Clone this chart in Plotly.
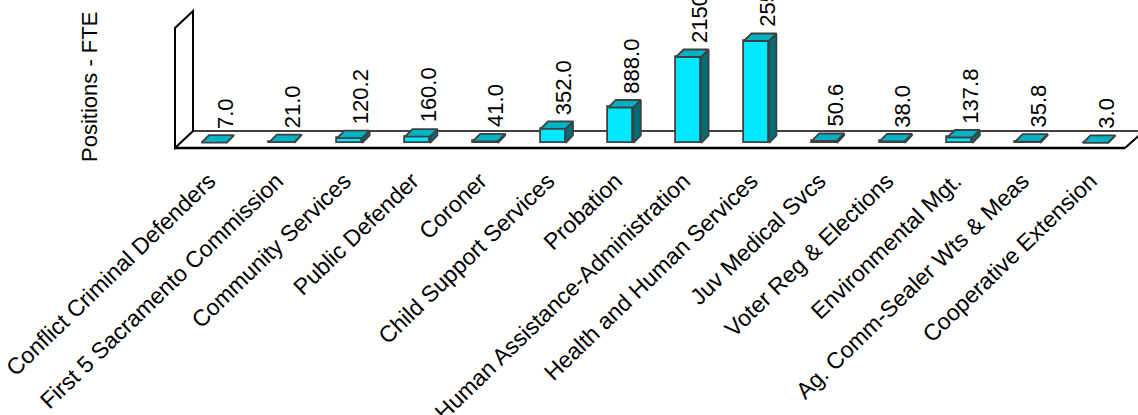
import plotly.graph_objects as go

# ---- data ----
categories = [
    "Conflict Criminal Defenders", "First 5 Sacramento Commission", "Community Services",
    "Public Defender", "Coroner", "Child Support Services", "Probation",
    "Human Assistance-Administration", "Health and Human Services", "Juv Medical Svcs",
    "Voter Reg & Elections", "Environmental Mgt.", "Ag. Comm-Sealer Wts & Meas",
    "Cooperative Extension",
]
fte = [7.0, 21.0, 120.2, 160.0, 41.0, 352.0, 888.0, 2150.0, 2550.0, 50.6, 38.0, 137.8, 35.8, 3.0]
value_labels = [f"{v:.1f}" for v in fte]
y_title = "Positions - FTE"

# ---- geometry (pixel-calibrated scales) ----
W, H = 1138, 415
PX_PER_CAT = 67.8
X0_PX = 214.0           # pixel of first category centre
BASE_PX = 143.0         # pixel of value 0
UNITS_PER_PX = 25.0     # value units per pixel
PLOT_H = 150            # plot area height in px (top margin 0)

def px_x(p):
    return (p - X0_PX) / PX_PER_CAT

def px_y(q):
    return (BASE_PX - q) * UNITS_PER_PX

xr = [px_x(0), px_x(W)]
yr = [px_y(PLOT_H), px_y(0)]

bar_w = 25 / PX_PER_CAT
ddx = 7.5 / PX_PER_CAT
ddy = 7.5 * UNITS_PER_PX

FRONT = "#00E8FF"
TOP = "#00B3C4"
SIDE = "#006F75"
EDGE = "#404040"
FONT = "Liberation Sans, Arial, sans-serif"

xs = list(range(len(categories)))

fig = go.Figure()

# front faces
fig.add_trace(go.Bar(
    x=xs, y=fte, width=bar_w,
    marker=dict(color=FRONT, line=dict(color=EDGE, width=1.8)),
    hoverinfo="skip", showlegend=False,
))

# side faces
sx, sy = [], []
for i, v in zip(xs, fte):
    r = i + bar_w / 2
    sx += [r, r + ddx, r + ddx, r, r, None]
    sy += [0, ddy, v + ddy, v, 0, None]
fig.add_trace(go.Scatter(x=sx, y=sy, mode="lines", fill="toself", fillcolor=SIDE,
                         line=dict(color=EDGE, width=1.8), hoverinfo="skip", showlegend=False))

# top faces
tx, ty = [], []
for i, v in zip(xs, fte):
    l, r = i - bar_w / 2, i + bar_w / 2
    tx += [l, r, r + ddx, l + ddx, l, None]
    ty += [v, v, v + ddy, v + ddy, v, None]
fig.add_trace(go.Scatter(x=tx, y=ty, mode="lines", fill="toself", fillcolor=TOP,
                         line=dict(color=EDGE, width=1.8), hoverinfo="skip", showlegend=False))

# floor & wall
shapes = []
fl, fr = px_x(174), px_x(1125)
bl, br = px_x(193), px_x(1144)
yf, yb = px_y(148), px_y(131)
shapes.append(dict(type="path", xref="x", yref="y", layer="below",
                   path=f"M{fl},{yf} L{fr},{yf} L{br},{yb} L{bl},{yb} Z",
                   fillcolor="white", line=dict(width=0)))
wx_f, wx_b = px_x(175), px_x(193)
shapes.append(dict(type="path", xref="x", yref="y", layer="below",
                   path=f"M{wx_f},{yf} L{wx_f},{px_y(28)} L{wx_b},{px_y(11)} L{wx_b},{yb} Z",
                   fillcolor="white", line=dict(color="black", width=2)))
shapes.append(dict(type="line", xref="x", yref="y", layer="below",
                   x0=bl, y0=yb, x1=br, y1=yb, line=dict(color="black", width=1.6)))
shapes.append(dict(type="line", xref="x", yref="y", layer="below",
                   x0=fl, y0=yf, x1=fr, y1=yf, line=dict(color="black", width=2.6)))
shapes.append(dict(type="line", xref="x", yref="y", layer="below",
                   x0=fr, y0=yf, x1=br, y1=yb, line=dict(color="black", width=2)))

annotations = []
for i, v, t in zip(xs, fte, value_labels):
    annotations.append(dict(x=i + 0.16, y=v + 300, xref="x", yref="y", text=t,
                            textangle=-90, showarrow=False, xanchor="center", yanchor="bottom",
                            font=dict(family=FONT, size=22, color="black")))
annotations.append(dict(x=89.5 / W, y=1 - 87.5 / PLOT_H, xref="paper", yref="paper",
                        text=y_title, textangle=-90, showarrow=False,
                        xanchor="center", yanchor="middle",
                        font=dict(family=FONT, size=22, color="black")))

fig.update_layout(
    width=W, height=H,
    margin=dict(l=0, r=0, t=0, b=H - PLOT_H, pad=0, autoexpand=False),
    paper_bgcolor="white", plot_bgcolor="rgba(0,0,0,0)",
    shapes=shapes, annotations=annotations,
    bargap=0,
    xaxis=dict(range=xr, tickmode="array", tickvals=xs, ticktext=categories,
               tickangle=-44, showgrid=False, zeroline=False, showline=False,
               ticks="", ticklabelstandoff=12, ticklabelshift=-5, ticklabeloverflow="allow",
               automargin=False,
               tickfont=dict(family=FONT, size=23, color="black"),
               fixedrange=True),
    yaxis=dict(range=yr, visible=False, showgrid=False, zeroline=False,
               automargin=False, fixedrange=True),
    showlegend=False,
)

fig.write_html("out.html")
